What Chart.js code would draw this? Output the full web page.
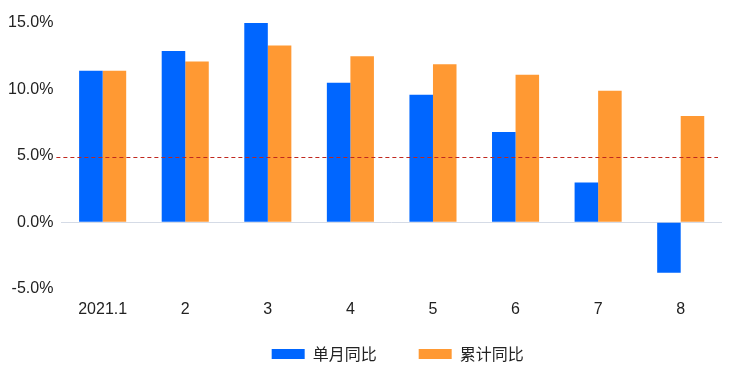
<!DOCTYPE html>
<html>
<head>
  <title>单月同比 / 累计同比</title>
  <script src="https://cdn.jsdelivr.net/npm/chart.js"></script>
  <style>
    html, body {
        margin: 0;
        padding: 0;
        background-color: #ffffff;
    }

    #wrap {
        width: 737px;
        height: 376px;
    }
  </style>
</head>
<body>

    <div id="wrap">
        <canvas id="myChart" width="737" height="376"></canvas>
    </div>

    <script>
        // Data (%)
        const months = ['2021.1', '2', '3', '4', '5', '6', '7', '8'];
        const monthlyYoY = [11.4, 12.9, 15.1, 10.5, 9.6, 6.8, 3.0, -3.8];
        const cumulativeYoY = [11.4, 12.1, 13.3, 12.5, 11.9, 11.1, 9.9, 8.0];
        const yTicks = [-5, 0, 5, 10, 15];
        const refLine = 4.9;

        // Dashed horizontal reference line across the plot
        const refLinePlugin = {
            id: 'refLine',
            afterLayout(chart) {
                // the legend row sits a bit higher / right of where chart.js puts it
                chart.legend.left += 6;
                chart.legend.right += 6;
                chart.legend.top -= 26;
            },
            afterDatasetsDraw(chart) {
                const ctx = chart.ctx;
                const area = chart.chartArea;
                const y = Math.round(chart.scales.y.getPixelForValue(refLine)) + 0.5;
                ctx.save();
                ctx.strokeStyle = '#c0281e';
                ctx.lineWidth = 1.2;
                ctx.setLineDash([4, 3]);
                ctx.beginPath();
                ctx.moveTo(area.left - 5, y);
                ctx.lineTo(area.right - 4, y);
                ctx.stroke();
                ctx.restore();
            }
        };

        Chart.defaults.font.family = '"Liberation Sans", Arial, "Noto Sans CJK SC", sans-serif';
        Chart.defaults.font.size = 16;
        Chart.defaults.color = '#222222';

        const ctx = document.getElementById('myChart').getContext('2d');
        const myChart = new Chart(ctx, {
            type: 'bar',
            data: {
                labels: months,
                datasets: [{
                    label: '单月同比',
                    data: monthlyYoY,
                    backgroundColor: '#0066ff',
                    barPercentage: 1,
                    categoryPercentage: 0.57
                }, {
                    label: '累计同比',
                    data: cumulativeYoY,
                    backgroundColor: '#ff9933',
                    barPercentage: 1,
                    categoryPercentage: 0.57
                }]
            },
            options: {
                responsive: false,
                animation: false,
                layout: {
                    padding: { top: 23, right: 15, bottom: 0, left: 0 }
                },
                plugins: {
                    legend: {
                        position: 'bottom',
                        fullSize: false,
                        maxHeight: 46,
                        labels: {
                            boxWidth: 33,
                            boxHeight: 10,
                            padding: 42,
                            color: '#222222',
                            font: { size: 16, family: '"Noto Sans CJK SC", sans-serif' }
                        }
                    },
                    tooltip: { enabled: false }
                },
                scales: {
                    x: {
                        grid: { display: false, drawTicks: false },
                        border: { display: false },
                        ticks: { padding: 11, maxRotation: 0 }
                    },
                    y: {
                        min: yTicks[0],
                        max: yTicks[yTicks.length - 1],
                        afterBuildTicks: (scale) => {
                            scale.ticks = yTicks.map(v => ({ value: v }));
                        },
                        grid: {
                            drawTicks: false,
                            color: (c) => c.tick && c.tick.value === 0 ? '#d5dbe6' : 'rgba(0,0,0,0)'
                        },
                        border: { display: false },
                        ticks: {
                            padding: 8,
                            callback: (v) => v.toFixed(1) + '%'
                        }
                    }
                }
            },
            plugins: [refLinePlugin]
        });
    </script>

</body>
</html>
